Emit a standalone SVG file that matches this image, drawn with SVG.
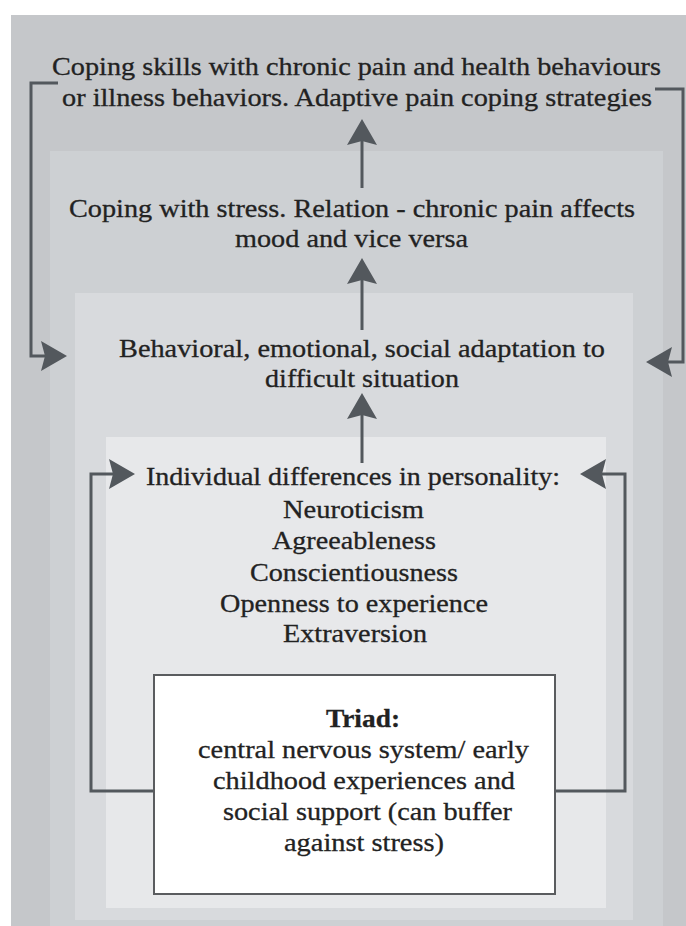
<svg xmlns="http://www.w3.org/2000/svg" width="686" height="926" viewBox="0 0 686 926">
<defs>
<style>
.t{font-family:'Liberation Serif','Times New Roman',Tinos,serif;font-size:26px;fill:#222222;stroke:#222222;stroke-width:0.3;text-anchor:middle}
.b{font-weight:bold}
.c{fill:none;stroke:#53585d;stroke-width:3}
</style>
<marker id="ah" viewBox="-4 -15 26 30" refX="0" refY="0" markerWidth="26" markerHeight="30" markerUnits="userSpaceOnUse" orient="auto">
<path d="M22,0 L-4,-15 L0,0 L-4,15 Z" fill="#53585d"/>
</marker>
</defs>
<rect width="686" height="926" fill="#ffffff"/>
<g id="layers">
<rect x="11" y="15" width="675" height="911" fill="#c5c7ca"/>
<rect x="50" y="151" width="613" height="775" fill="#cdd0d3"/>
<rect x="75" y="293" width="558" height="627" fill="#d8dadd"/>
<rect x="106" y="437" width="500" height="471" fill="#e7e8ea"/>
</g>
<g id="connectors">
<path class="c" d="M362,188 V141" marker-end="url(#ah)"/>
<path class="c" d="M362,330 V280" marker-end="url(#ah)"/>
<path class="c" d="M362,463 V415" marker-end="url(#ah)"/>
<path class="c" d="M58,83 H31 V356 H45" marker-end="url(#ah)"/>
<path class="c" d="M655,89 H683 V362 H668" marker-end="url(#ah)"/>
<path class="c" d="M154,791 H91 V474 H113" marker-end="url(#ah)"/>
<path class="c" d="M555,791 H625 V474 H602" marker-end="url(#ah)"/>
</g>
<g id="node-coping-skills">
<text class="t" x="356.5" y="75" textLength="609" lengthAdjust="spacingAndGlyphs" font-family="Liberation Serif, serif">Coping skills with chronic pain and health behaviours</text>
<text class="t" x="357" y="106" textLength="590" lengthAdjust="spacingAndGlyphs" font-family="Liberation Serif, serif">or illness behaviors. Adaptive pain coping strategies</text>
</g>
<g id="node-coping-stress">
<text class="t" x="352" y="217" textLength="566" lengthAdjust="spacingAndGlyphs">Coping with stress. Relation - chronic pain affects</text>
<text class="t" x="351.5" y="247" textLength="233" lengthAdjust="spacingAndGlyphs">mood and vice versa</text>
</g>
<g id="node-adaptation">
<text class="t" x="362" y="357" textLength="486" lengthAdjust="spacingAndGlyphs">Behavioral, emotional, social adaptation to</text>
<text class="t" x="362" y="387" textLength="194" lengthAdjust="spacingAndGlyphs">difficult situation</text>
</g>
<g id="node-personality">
<text class="t" x="353" y="485" textLength="414" lengthAdjust="spacingAndGlyphs">Individual differences in personality:</text>
<text class="t" x="353.5" y="518" textLength="141" lengthAdjust="spacingAndGlyphs">Neuroticism</text>
<text class="t" x="354" y="549" textLength="164" lengthAdjust="spacingAndGlyphs">Agreeableness</text>
<text class="t" x="354" y="581" textLength="208" lengthAdjust="spacingAndGlyphs">Conscientiousness</text>
<text class="t" x="354" y="612" textLength="268" lengthAdjust="spacingAndGlyphs">Openness to experience</text>
<text class="t" x="355" y="642" textLength="144" lengthAdjust="spacingAndGlyphs">Extraversion</text>
</g>
<g id="node-triad">
<rect x="154" y="675" width="401" height="219" fill="#ffffff" stroke="#5a5c5f" stroke-width="2"/>
<text class="t b" x="363" y="727" textLength="74" lengthAdjust="spacingAndGlyphs">Triad:</text>
<text class="t" x="363.5" y="758" textLength="331" lengthAdjust="spacingAndGlyphs">central nervous system/ early</text>
<text class="t" x="364" y="789" textLength="302" lengthAdjust="spacingAndGlyphs">childhood experiences and</text>
<text class="t" x="367.5" y="820" textLength="289" lengthAdjust="spacingAndGlyphs">social support (can buffer</text>
<text class="t" x="364" y="851" textLength="160" lengthAdjust="spacingAndGlyphs">against stress)</text>
</g>
</svg>
